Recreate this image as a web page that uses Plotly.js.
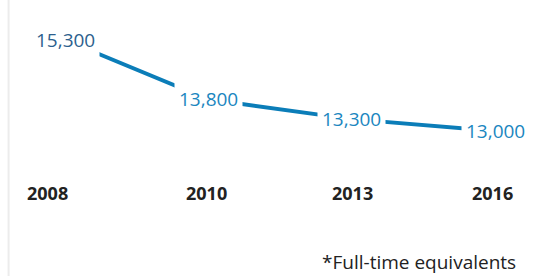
<!DOCTYPE html>
<html><head><meta charset="utf-8">
<script src="https://cdn.plot.ly/plotly-3.0.1.min.js"></script>
<style>html,body{margin:0;padding:0;background:#fff}#c{width:540px;height:280px}</style>
</head><body><div id="c"></div>
<script>
var years = ['2008', '2010', '2013', '2016'];
var staff = [15300, 13800, 13300, 13000];
var valueLabels = ['15,300', '13,800', '13,300', '13,000'];
var footnote = '*Full-time equivalents';

var lineColor = '#0b7db8';
var labelColors = ['#2d5f8e', '#1a86c0', '#1a86c0', '#1a86c0'];
var yearShift = [-18, -2, 1, -3];

var trace = {
  x: years, y: staff, type: 'scatter', mode: 'lines',
  line: {color: lineColor, width: 4}, hoverinfo: 'none'
};

var ann = years.map(function (yr, i) {
  return {x: i, y: staff[i], xref: 'x', yref: 'y', text: valueLabels[i],
    showarrow: false, bgcolor: '#ffffff', borderpad: 4,
    font: {family: 'Open Sans', size: 19, color: labelColors[i]}};
});
years.forEach(function (yr, i) {
  ann.push({x: i, y: 0, xref: 'x', yref: 'paper', yanchor: 'middle', yshift: -13,
    xshift: yearShift[i], text: yr, showarrow: false,
    font: {family: 'Open Sans', size: 18, color: '#222', weight: 'bold'}});
});
ann.push({x: 1, y: 0, xref: 'paper', yref: 'paper', xanchor: 'right', yanchor: 'bottom',
  text: footnote, showarrow: false, yshift: -97, xshift: -20,
  font: {family: 'Open Sans', size: 19, color: '#222'}});

var layout = {
  width: 540, height: 280,
  margin: {l: 22, r: 2, t: 20, b: 100},
  paper_bgcolor: '#fff', plot_bgcolor: '#fff',
  showlegend: false,
  xaxis: {type: 'category', range: [-0.3, 3.3], showgrid: false, zeroline: false,
    showline: false, ticks: '', showticklabels: false},
  yaxis: {range: [11762, 15805], visible: false, showgrid: false, zeroline: false},
  annotations: ann,
  shapes: [{type: 'line', xref: 'paper', yref: 'paper', x0: -0.026, x1: -0.026, y0: -0.6, y1: 1.2,
    line: {color: '#ececec', width: 2}}]
};
Plotly.newPlot('c', [trace], layout, {displayModeBar: false, staticPlot: true});
</script></body></html>
